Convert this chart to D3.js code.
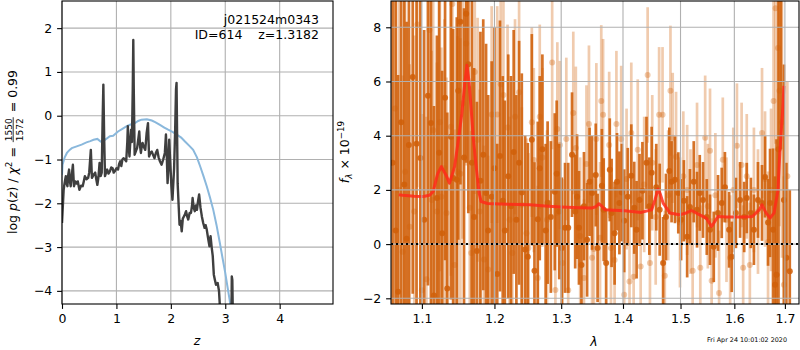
<!DOCTYPE html>
<html>
<head>
<meta charset="utf-8">
<script src="https://cdn.jsdelivr.net/npm/d3@7"></script>
<style>
  body { margin: 0; background: #fff; }
  svg { display: block; font-family: "DejaVu Sans", sans-serif; }
</style>
</head>
<body>
<svg id="chart" width="800" height="350"></svg>
<script>
// p(z) panel: redshift grid and log p(z) of the fit
var pzZ = [0.00, 0.01, 0.03, 0.04, 0.06, 0.07, 0.085, 0.10, 0.115, 0.13, 0.145, 0.16, 0.18, 0.20, 0.22, 0.245,
  0.27, 0.29, 0.32, 0.35, 0.38, 0.40, 0.42, 0.45, 0.48, 0.50, 0.53, 0.55, 0.58, 0.61, 0.63, 0.65, 0.67, 0.69,
  0.71, 0.73, 0.745, 0.76, 0.775, 0.79, 0.81, 0.83, 0.855, 0.88, 0.905, 0.93, 0.95, 0.97, 1.00, 1.03, 1.05,
  1.07, 1.09, 1.11, 1.13, 1.155, 1.18, 1.20, 1.21, 1.225, 1.24, 1.255, 1.27, 1.285, 1.30, 1.31, 1.32, 1.335,
  1.36, 1.38, 1.40, 1.42, 1.435, 1.45, 1.465, 1.48, 1.50, 1.53, 1.555, 1.58, 1.60, 1.625, 1.65, 1.675, 1.70,
  1.725, 1.75, 1.775, 1.80, 1.83, 1.86, 1.89, 1.91, 1.925, 1.94, 1.955, 1.97, 1.99, 2.01, 2.03, 2.06, 2.08,
  2.095, 2.105, 2.115, 2.125, 2.14, 2.16, 2.18, 2.20, 2.22, 2.24, 2.26, 2.28, 2.30, 2.32, 2.345, 2.37, 2.39,
  2.40, 2.42, 2.44, 2.46, 2.48, 2.50, 2.52, 2.545, 2.57, 2.595, 2.62, 2.64, 2.66, 2.685, 2.71, 2.73, 2.75,
  2.77, 2.79, 2.81, 2.83, 2.86, 2.885, 2.90, 2.93, 2.96, 3.00, 3.05, 3.10, 3.115, 3.12, 3.13, 3.14, 3.16, 3.25];
var pzLog = [-2.45, -2.2, -1.7, -1.6, -1.45, -1.38, -1.55, -1.61, -1.35, -1.23, -1.5, -1.61, -1.35, -1.12, -1.61, -1.5,
  -1.55, -1.5, -1.69, -1.6, -1.61, -1.5, -1.38, -1.45, -1.42, -1.3, -0.78, -1.42, -1.35, -1.3, -1.45, -1.58, -1.4, -1.08,
  -1.38, -1.3, -0.2, 0.71, -0.5, -1.38, -1.3, -1.23, -1.32, -1.27, -1.18, -1.2, -1.3, -1.27, -1.2, -1.23, -1.1,
  -1.04, -1.15, -1.0, -0.97, -1.0, -1.04, -0.6, -0.24, -0.7, -0.93, -0.6, -0.32, -0.6, 0.6, 1.73, 0.5, -0.89,
  -0.8, -0.74, -0.55, -0.36, -0.7, -0.85, -0.7, -0.62, -0.7, -0.78, -0.4, -0.17, -0.93, -0.85, -0.82, -0.9, -0.97,
  -0.85, -0.78, -0.95, -1.04, -1.12, -1.0, -0.85, -0.43, -0.9, -1.54, -1.2, -0.55, -1.08, -1.6, -1.92, -1.2, -0.3,
  0.6, 0.75, -0.4, -1.54, -1.95, -2.49, -2.4, -2.64, -2.35, -2.3, -2.25, -2.18, -2.3, -2.37, -2.22, -2.22, -2.05,
  -1.88, -2.1, -2.18, -2.05, -2.15, -1.95, -1.8, -2.1, -2.3, -2.45, -2.56, -2.5, -2.6, -2.8, -2.98, -2.75, -3.0,
  -3.2, -3.63, -3.75, -3.86, -3.82, -4.0, -4.32, -4.9, -5.5, -5.6, -5.6, -5.2, -4.5, -3.67, -3.75, -4.6, -5.5, -6.5];

// prior curve
var priorZ = [0.00, 0.01, 0.05, 0.09, 0.14, 0.18, 0.27, 0.36, 0.45, 0.52, 0.58, 0.65, 0.71, 0.79, 0.88, 0.94, 1.03,
  1.11, 1.19, 1.26, 1.34, 1.40, 1.46, 1.56, 1.65, 1.72, 1.80, 1.88, 1.95, 2.03, 2.11, 2.19, 2.26, 2.35, 2.41, 2.48,
  2.54, 2.60, 2.66, 2.72, 2.78, 2.84, 2.90, 2.95, 3.00, 3.04, 3.08, 3.12];
var priorLog = [-1.35, -1.12, -0.95, -0.85, -0.78, -0.74, -0.7, -0.66, -0.61, -0.58, -0.55, -0.53, -0.59, -0.55, -0.47,
  -0.46, -0.36, -0.3, -0.24, -0.2, -0.17, -0.12, -0.09, -0.08, -0.11, -0.15, -0.21, -0.27, -0.32, -0.37, -0.43, -0.5,
  -0.59, -0.7, -0.78, -0.95, -1.16, -1.38, -1.61, -1.87, -2.15, -2.5, -2.9, -3.25, -3.59, -3.9, -4.2, -4.55];

// spectrum panel: first spectrum (dark)
var spec1Wave = [1.062, 1.066, 1.069, 1.073, 1.077, 1.080, 1.083, 1.088, 1.093, 1.098, 1.103, 1.108, 1.112, 1.116,
  1.120, 1.123, 1.127, 1.131, 1.134, 1.139, 1.142, 1.147, 1.149, 1.152, 1.157, 1.160, 1.163, 1.168, 1.171, 1.175,
  1.180, 1.184, 1.188, 1.191, 1.196, 1.200, 1.204, 1.208, 1.212, 1.215, 1.220, 1.224, 1.228, 1.232, 1.236, 1.240,
  1.245, 1.249, 1.255, 1.259, 1.264, 1.267, 1.271, 1.276, 1.279, 1.284, 1.290, 1.293, 1.297, 1.301, 1.306, 1.311,
  1.317, 1.322, 1.325, 1.328, 1.332, 1.336, 1.341, 1.345, 1.349, 1.355, 1.358, 1.365, 1.368, 1.372, 1.378, 1.381,
  1.386, 1.390, 1.394, 1.398, 1.402, 1.408, 1.414, 1.419, 1.423, 1.428, 1.433, 1.440, 1.445, 1.449, 1.457, 1.463,
  1.469, 1.474, 1.480, 1.484, 1.490, 1.496, 1.501, 1.506, 1.512, 1.517, 1.524, 1.530, 1.535, 1.541, 1.548, 1.554,
  1.561, 1.569, 1.576, 1.582, 1.590, 1.595, 1.603, 1.611, 1.619, 1.624, 1.632, 1.638, 1.646, 1.654, 1.660, 1.666,
  1.670, 1.676, 1.680, 1.683, 1.687, 1.692, 1.698, 1.703, 1.710];
var spec1Flux = [3.0, 0.5, -1.76, 4.5, 2.2, 0.2, 3.66, 6.17, 3.7, 3.18, 0.9, 5.47, 4.47, -1.9,
  1.7, 3.37, 0.4, 5.4, -1.64, 3.96, 2.44, 2.37, 5.66, 8.2, 3.2, 8.5, 6.64, 3.0, 1.0, -0.25,
  2.34, 3.3, 1.89, 0.5, 1.75, 2.8, -1.1, 3.25, 1.6, 0.5, 2.5, 1.4, 3.4, 0.9, 3.0, 1.9,
  -0.2, -0.47, 3.85, -0.98, 0.92, 2.8, 3.5, 0.5, 1.53, 1.0, 1.93, 2.6, 1.2, -0.14, 0.6, 0.6,
  3.3, 1.2, 1.75, 0.6, -0.77, 1.4, 0.16, 2.3, 1.89, 2.55, -0.14, 2.15, 1.27, -0.7, 2.74, 1.15,
  0.4, 2.3, 1.52, 1.9, 0.86, 1.75, 2.52, 1.34, 0.53, 1.63, 1.97, 3.0, 1.4, 2.63, 2.1, 1.27,
  -0.7, 1.0, 2.7, 2.3, 2.37, 1.89, 0.9, 1.6, 0.27, 1.37, 2.3, 1.27, 1.89, 1.63, 1.0, 0.53,
  -0.1, 1.15, 1.52, 2.1, 0.53, -0.47, 1.15, 1.63, 1.0, 1.7, 1.15, 0.53, 1.63, 1.52, 2.48, 0.8,
  1.52, 0.53, -1.5, -1.13, 3.5, 9.5, 1.63, -0.5, -1.0];
var spec1Err = [9, 9, 8, 9, 8, 8, 7, 8, 7, 8, 7, 7, 7, 7,
  6, 6.5, 6, 6, 6.5, 6, 5.5, 6, 5.5, 6, 5.5, 5.5, 5.5, 6, 5.5, 5.5,
  5.5, 5, 5.5, 5, 5, 5.2, 4.8, 5, 4.6, 4.8, 4.5, 4.8, 4.5, 4.6, 4.5, 4.4,
  4.2, 4.2, 3.9, 4.0, 3.6, 3.4, 3.5, 3.2, 3.0, 2.8, 2.9, 2.7, 2.5, 2.6, 2.4, 2.4,
  2.3, 2.1, 2.3, 2.1, 2.2, 2.0, 2.1, 2.0, 2.1, 1.9, 2.0, 2.1, 1.9, 2.0, 1.9, 2.0,
  1.9, 1.8, 1.9, 1.8, 1.9, 1.8, 1.9, 1.7, 1.8, 1.7, 1.8, 1.7, 1.8, 1.7, 1.6, 1.7,
  1.7, 1.6, 1.6, 1.5, 1.6, 1.5, 1.5, 1.5, 1.5, 1.4, 1.5, 1.4, 1.4, 1.4, 1.4, 1.3,
  1.3, 1.4, 1.3, 1.3, 1.4, 1.3, 1.3, 1.4, 1.3, 1.3, 1.3, 1.3, 1.4, 1.4, 1.5, 1.6,
  2, 3, 4, 5, 6, 6, 5, 3.5, 3];

// second spectrum (light)
var spec2Wave = [1.065, 1.070, 1.075, 1.078, 1.084, 1.090, 1.094, 1.100, 1.106, 1.110, 1.113, 1.115, 1.120, 1.124,
  1.126, 1.130, 1.133, 1.139, 1.141, 1.144, 1.148, 1.152, 1.155, 1.160, 1.165, 1.167, 1.172, 1.176, 1.179, 1.185,
  1.191, 1.196, 1.204, 1.209, 1.213, 1.219, 1.222, 1.226, 1.230, 1.236, 1.240, 1.247, 1.250, 1.255, 1.258, 1.264,
  1.267, 1.271, 1.278, 1.286, 1.291, 1.294, 1.298, 1.302, 1.308, 1.311, 1.319, 1.323, 1.330, 1.336, 1.340, 1.344,
  1.349, 1.352, 1.356, 1.362, 1.364, 1.367, 1.377, 1.380, 1.386, 1.389, 1.397, 1.402, 1.406, 1.411, 1.414, 1.418,
  1.425, 1.430, 1.436, 1.442, 1.446, 1.450, 1.456, 1.462, 1.468, 1.472, 1.478, 1.482, 1.486, 1.492, 1.499, 1.505,
  1.512, 1.518, 1.522, 1.530, 1.536, 1.545, 1.550, 1.554, 1.557, 1.564, 1.571, 1.578, 1.585, 1.592, 1.598, 1.605,
  1.614, 1.617, 1.624, 1.630, 1.638, 1.646, 1.654, 1.660, 1.666, 1.672, 1.677, 1.681, 1.686, 1.689, 1.694, 1.698, 1.705];
var spec2Flux = [5.0, 2.0, -0.28, 2.67, 0.64, 1.2, 8.1, -1.7, -1.3, 7.9, 1.63, 4.2, 1.2, 4.5,
  1.75, 2.8, 1.15, 4.33, 8.86, -0.77, 2.67, 2.6, 5.2, 7.4, 1.34, -0.33, 6.35, 3.85, 1.2, -0.57,
  -0.94, 4.78, 4.78, 5.9, 5.5, 4.3, 0.9, -0.33, 4.7, 5.6, 1.45, 0.4, -0.14, 4.5, 3.1, -1.25,
  4.7, 3.2, 0.9, 6.7, -1.69, 4.25, 3.66, -0.7, 3.88, -1.7, 4.84, 3.55, 0.3, -1.25, 2.96, 4.43,
  -0.5, -0.18, 3.88, 0.23, 5.28, 4.77, 3.66, -0.14, -0.59, 4.43, 3.88, -1.87, 2.4, -1.38, 4.1, -1.2,
  3.48, -0.83, 2.2, 6.24, -0.7, 3.0, 1.0, 4.77, 4.77, -1.17, 1.8, 5.66, 3.92, 3.22, 0.8, 2.5,
  2.0, 1.2, -0.98, 2.92, -0.87, 3.92, 1.4, 3.44, -1.35, 1.8, -1.8, 3.11, 0.9, -0.5, 2.0, 3.63,
  2.92, -0.87, 2.5, -0.77, 2.0, 1.2, 4.1, 2.4, 0.08, 2.0, 5.28, 8.7, 7.24, 5.66, 4.5, -1.5, 2.5];
var spec2Err = [7, 7, 6.5, 6.5, 6, 6.5, 6, 6.5, 6, 6, 5.5, 6, 5.5, 5.5,
  5.5, 5.5, 5, 5.5, 5, 5, 5, 5, 5, 4.5, 4.5, 4.5, 4.5, 4.5, 4.5, 4.2,
  4.2, 4, 4, 4, 4, 3.8, 3.8, 3.8, 3.6, 3.6, 3.6, 3.5, 3.5, 3.5, 3.4, 3.4,
  3.4, 3.3, 3.3, 3.2, 3.2, 3.2, 3.1, 3.1, 3, 3, 3, 3, 2.9, 2.9, 2.9, 2.9,
  2.9, 2.8, 2.8, 2.8, 2.8, 2.8, 2.7, 2.7, 2.7, 2.7, 2.7, 2.6, 2.6, 2.6, 2.6, 2.6,
  2.6, 2.6, 2.5, 2.5, 2.5, 2.5, 2.5, 2.5, 2.5, 2.4, 2.4, 2.4, 2.4, 2.4, 2.4, 2.4,
  2.4, 2.3, 2.3, 2.3, 2.3, 2.3, 2.3, 2.3, 2.3, 2.3, 2.3, 2.3, 2.3, 2.3, 2.3, 2.3,
  2.3, 2.3, 2.3, 2.3, 2.3, 2.3, 2.4, 2.5, 2.6, 3, 4, 5, 5, 5, 5, 4, 3.5];

// best-fit model
var modelWave = [1.070, 1.075, 1.090, 1.102, 1.110, 1.115, 1.121, 1.126, 1.132, 1.137, 1.144, 1.150, 1.154, 1.158,
  1.161, 1.164, 1.167, 1.170, 1.174, 1.178, 1.181, 1.190, 1.198, 1.220, 1.252, 1.280, 1.300, 1.330, 1.348, 1.355,
  1.360, 1.365, 1.370, 1.385, 1.403, 1.431, 1.449, 1.455, 1.460, 1.464, 1.469, 1.481, 1.498, 1.510, 1.520, 1.535,
  1.547, 1.557, 1.569, 1.585, 1.597, 1.620, 1.635, 1.649, 1.654, 1.662, 1.670, 1.678, 1.686, 1.690, 1.696, 1.698];
var modelFlux = [1.82, 1.8, 1.77, 1.76, 1.8, 1.94, 2.6, 2.86, 2.56, 2.25, 2.86, 4.0, 4.83, 5.9,
  6.6, 6.0, 4.95, 3.9, 2.86, 1.9, 1.57, 1.5, 1.49, 1.47, 1.45, 1.4, 1.37, 1.34, 1.33, 1.38,
  1.49, 1.4, 1.27, 1.25, 1.23, 1.17, 1.27, 1.65, 2.03, 1.85, 1.51, 1.15, 1.08, 1.15, 1.24, 1.08,
  0.96, 0.65, 1.02, 1.0, 1.0, 1.0, 1.02, 1.27, 1.45, 1.15, 0.96, 1.15, 2.0, 3.48, 5.08, 5.84];

var leftXTicks = [0, 1, 2, 3, 4];
var leftYTicks = [-4, -3, -2, -1, 0, 1, 2];
var rightXTicks = [1.1, 1.2, 1.3, 1.4, 1.5, 1.6, 1.7];
var rightYTicks = [-2, 0, 2, 4, 6, 8];

var FS = 12.5;
var GRID = "#b0b0b0";
var ORANGE = "#d0600a";
var NB = "\u00a0";
var svg = d3.select("#chart");

// Panel boxes
var L = { x0: 62, x1: 333, y0: 1, y1: 304 };
var R = { x0: 391, x1: 799, y0: 1, y1: 304 };

var xL = d3.scaleLinear().domain([0, 4.98]).range([L.x0, L.x1]);
var yL = d3.scaleLinear().domain([-4.3, 2.62]).range([L.y1, L.y0]);
var xR = d3.scaleLog().domain([1.06, 1.729]).range([R.x0, R.x1]);
var yR = d3.scaleLinear().domain([-2.21, 8.97]).range([R.y1, R.y0]);

var defs = svg.append("defs");
[["clipL", L], ["clipR", R]].forEach(function(c) {
  defs.append("clipPath").attr("id", c[0]).append("rect")
    .attr("x", c[1].x0).attr("y", c[1].y0)
    .attr("width", c[1].x1 - c[1].x0).attr("height", c[1].y1 - c[1].y0);
});

function drawGrid(g, x, y, xt, yt, box) {
  g.selectAll(".gx").data(xt).enter().append("line")
    .attr("x1", function(d) { return x(d); }).attr("x2", function(d) { return x(d); })
    .attr("y1", box.y0).attr("y2", box.y1)
    .attr("stroke", GRID).attr("stroke-width", 1.1);
  g.selectAll(".gy").data(yt).enter().append("line")
    .attr("y1", function(d) { return y(d); }).attr("y2", function(d) { return y(d); })
    .attr("x1", box.x0).attr("x2", box.x1)
    .attr("stroke", GRID).attr("stroke-width", 1.1);
}

function drawAxes(x, y, xt, yt, fx, fy, box) {
  var ax = svg.append("g").attr("transform", "translate(0," + box.y1 + ")")
    .call(d3.axisBottom(x).tickValues(xt).tickFormat(fx).tickSize(4.9).tickPadding(4.8));
  var ay = svg.append("g").attr("transform", "translate(" + box.x0 + ",0)")
    .call(d3.axisLeft(y).tickValues(yt).tickFormat(fy).tickSize(4.9).tickPadding(4.8));
  [ax, ay].forEach(function(a) {
    a.select(".domain").remove();
    a.attr("font-size", FS).attr("font-family", "DejaVu Sans, sans-serif");
    a.selectAll("line").attr("stroke", "#000").attr("stroke-width", 1.1);
    a.selectAll("text").attr("fill", "#000");
  });
  svg.append("rect").attr("x", box.x0).attr("y", box.y0)
    .attr("width", box.x1 - box.x0).attr("height", box.y1 - box.y0)
    .attr("fill", "none").attr("stroke", "#000").attr("stroke-width", 1.1);
}

// ---- left panel: p(z)
var gL = svg.append("g");
drawGrid(gL, xL, yL, leftXTicks, leftYTicks, L);
var plotL = gL.append("g").attr("clip-path", "url(#clipL)");
plotL.append("path")
  .datum(d3.zip(priorZ, priorLog))
  .attr("d", d3.line().x(function(d) { return xL(d[0]); }).y(function(d) { return yL(d[1]); }))
  .attr("fill", "none").attr("stroke", "#8ab8dc").attr("stroke-width", 2);
plotL.append("path")
  .datum(d3.zip(pzZ, pzLog))
  .attr("d", d3.line().x(function(d) { return xL(d[0]); }).y(function(d) { return yL(d[1]); }))
  .attr("fill", "none").attr("stroke", "#3f3f3f").attr("stroke-width", 2.4)
  .attr("stroke-linejoin", "round");
drawAxes(xL, yL, leftXTicks, leftYTicks, d3.format("d"), d3.format("d"), L);

svg.append("text").attr("x", 319).attr("y", 24).attr("text-anchor", "end")
  .attr("font-size", FS).text("j021524m0343");
svg.append("text").attr("x", 319).attr("y", 39).attr("text-anchor", "end")
  .attr("font-size", FS).text("ID=614" + NB + NB + NB + NB + "z=1.3182");

svg.append("text").attr("x", 197).attr("y", 345).attr("text-anchor", "middle")
  .attr("font-size", FS).attr("font-style", "italic").text("z");

// y label with the chi2 fraction
var lab = svg.append("g").attr("transform", "translate(17,152) rotate(-90)");
var inner = lab.append("g");
var t1 = inner.append("text").attr("font-size", FS);
t1.append("tspan").text("log" + NB);
t1.append("tspan").attr("font-style", "italic").text("p");
t1.append("tspan").text("(");
t1.append("tspan").attr("font-style", "italic").text("z");
t1.append("tspan").text(")" + NB + "/" + NB);
t1.append("tspan").attr("font-style", "italic").text("χ");
t1.append("tspan").attr("font-size", FS * 0.7).attr("dy", -5).text("2");
t1.append("tspan").attr("dy", 5).text(NB + "=" + NB);
var w1 = t1.node().getComputedTextLength();
var fs2 = FS * 0.72;
var num = inner.append("text").attr("font-size", fs2).attr("text-anchor", "middle").text("1550");
var fw = num.node().getComputedTextLength();
var fx0 = w1 + 1;
num.attr("x", fx0 + fw / 2 + 1).attr("y", -5.5);
inner.append("text").attr("font-size", fs2).attr("text-anchor", "middle")
  .attr("x", fx0 + fw / 2 + 1).attr("y", 5.5).text("1572");
inner.append("line").attr("x1", fx0).attr("x2", fx0 + fw + 2)
  .attr("y1", -3.8).attr("y2", -3.8).attr("stroke", "#000").attr("stroke-width", 0.8);
var t3 = inner.append("text").attr("font-size", FS).attr("x", fx0 + fw + 3).text(NB + "=" + NB + "0.99");
var wTot = fx0 + fw + 3 + t3.node().getComputedTextLength();
inner.attr("transform", "translate(" + (-wTot / 2) + ",0)");

// ---- right panel: spectrum
var gR = svg.append("g");
var plotR = gR.append("g").attr("clip-path", "url(#clipR)");

function drawSpec(g, wave, flux, err, opacity) {
  var pts = d3.zip(wave, flux, err);
  g.selectAll(".eb").data(pts).enter().append("line")
    .attr("x1", function(d) { return xR(d[0]); }).attr("x2", function(d) { return xR(d[0]); })
    .attr("y1", function(d) { return yR(d[1] - d[2]); }).attr("y2", function(d) { return yR(d[1] + d[2]); })
    .attr("stroke", ORANGE).attr("stroke-opacity", opacity).attr("stroke-width", 2.7);
  g.selectAll(".pt").data(pts).enter().append("circle")
    .attr("cx", function(d) { return xR(d[0]); }).attr("cy", function(d) { return yR(d[1]); })
    .attr("r", 3).attr("fill", ORANGE).attr("fill-opacity", opacity);
}
drawSpec(plotR.append("g"), spec1Wave, spec1Flux, spec1Err, 0.88);
drawSpec(plotR.append("g"), spec2Wave, spec2Flux, spec2Err, 0.33);

drawGrid(gR, xR, yR, rightXTicks, rightYTicks, R);

gR.append("line").attr("x1", R.x0).attr("x2", R.x1).attr("y1", yR(0)).attr("y2", yR(0))
  .attr("stroke", "#000").attr("stroke-width", 2).attr("stroke-dasharray", "2,3");

plotR.append("path")
  .datum(d3.zip(modelWave, modelFlux))
  .attr("d", d3.line().x(function(d) { return xR(d[0]); }).y(function(d) { return yR(d[1]); }))
  .attr("fill", "none").attr("stroke", "#ff2a1a").attr("stroke-opacity", 0.85)
  .attr("stroke-width", 3).attr("stroke-linejoin", "round");

drawAxes(xR, yR, rightXTicks, rightYTicks, d3.format(".1f"), d3.format("d"), R);

svg.append("text").attr("x", 594).attr("y", 346).attr("text-anchor", "middle")
  .attr("font-size", FS).attr("font-style", "italic").text("λ");

var ylR = svg.append("text").attr("transform", "translate(349,152) rotate(-90)")
  .attr("text-anchor", "middle").attr("font-size", FS);
ylR.append("tspan").attr("font-style", "italic").text("f");
ylR.append("tspan").attr("font-size", FS * 0.7).attr("font-style", "italic").attr("dy", 3).text("λ");
ylR.append("tspan").attr("dy", -3).text(NB + "×" + NB + "10");
ylR.append("tspan").attr("font-size", FS * 0.7).attr("dy", -5).text("−19");

svg.append("text").attr("x", 787).attr("y", 342).attr("text-anchor", "end")
  .attr("font-size", 6.4).text("Fri Apr 24 10:01:02 2020");
</script>
</body>
</html>
